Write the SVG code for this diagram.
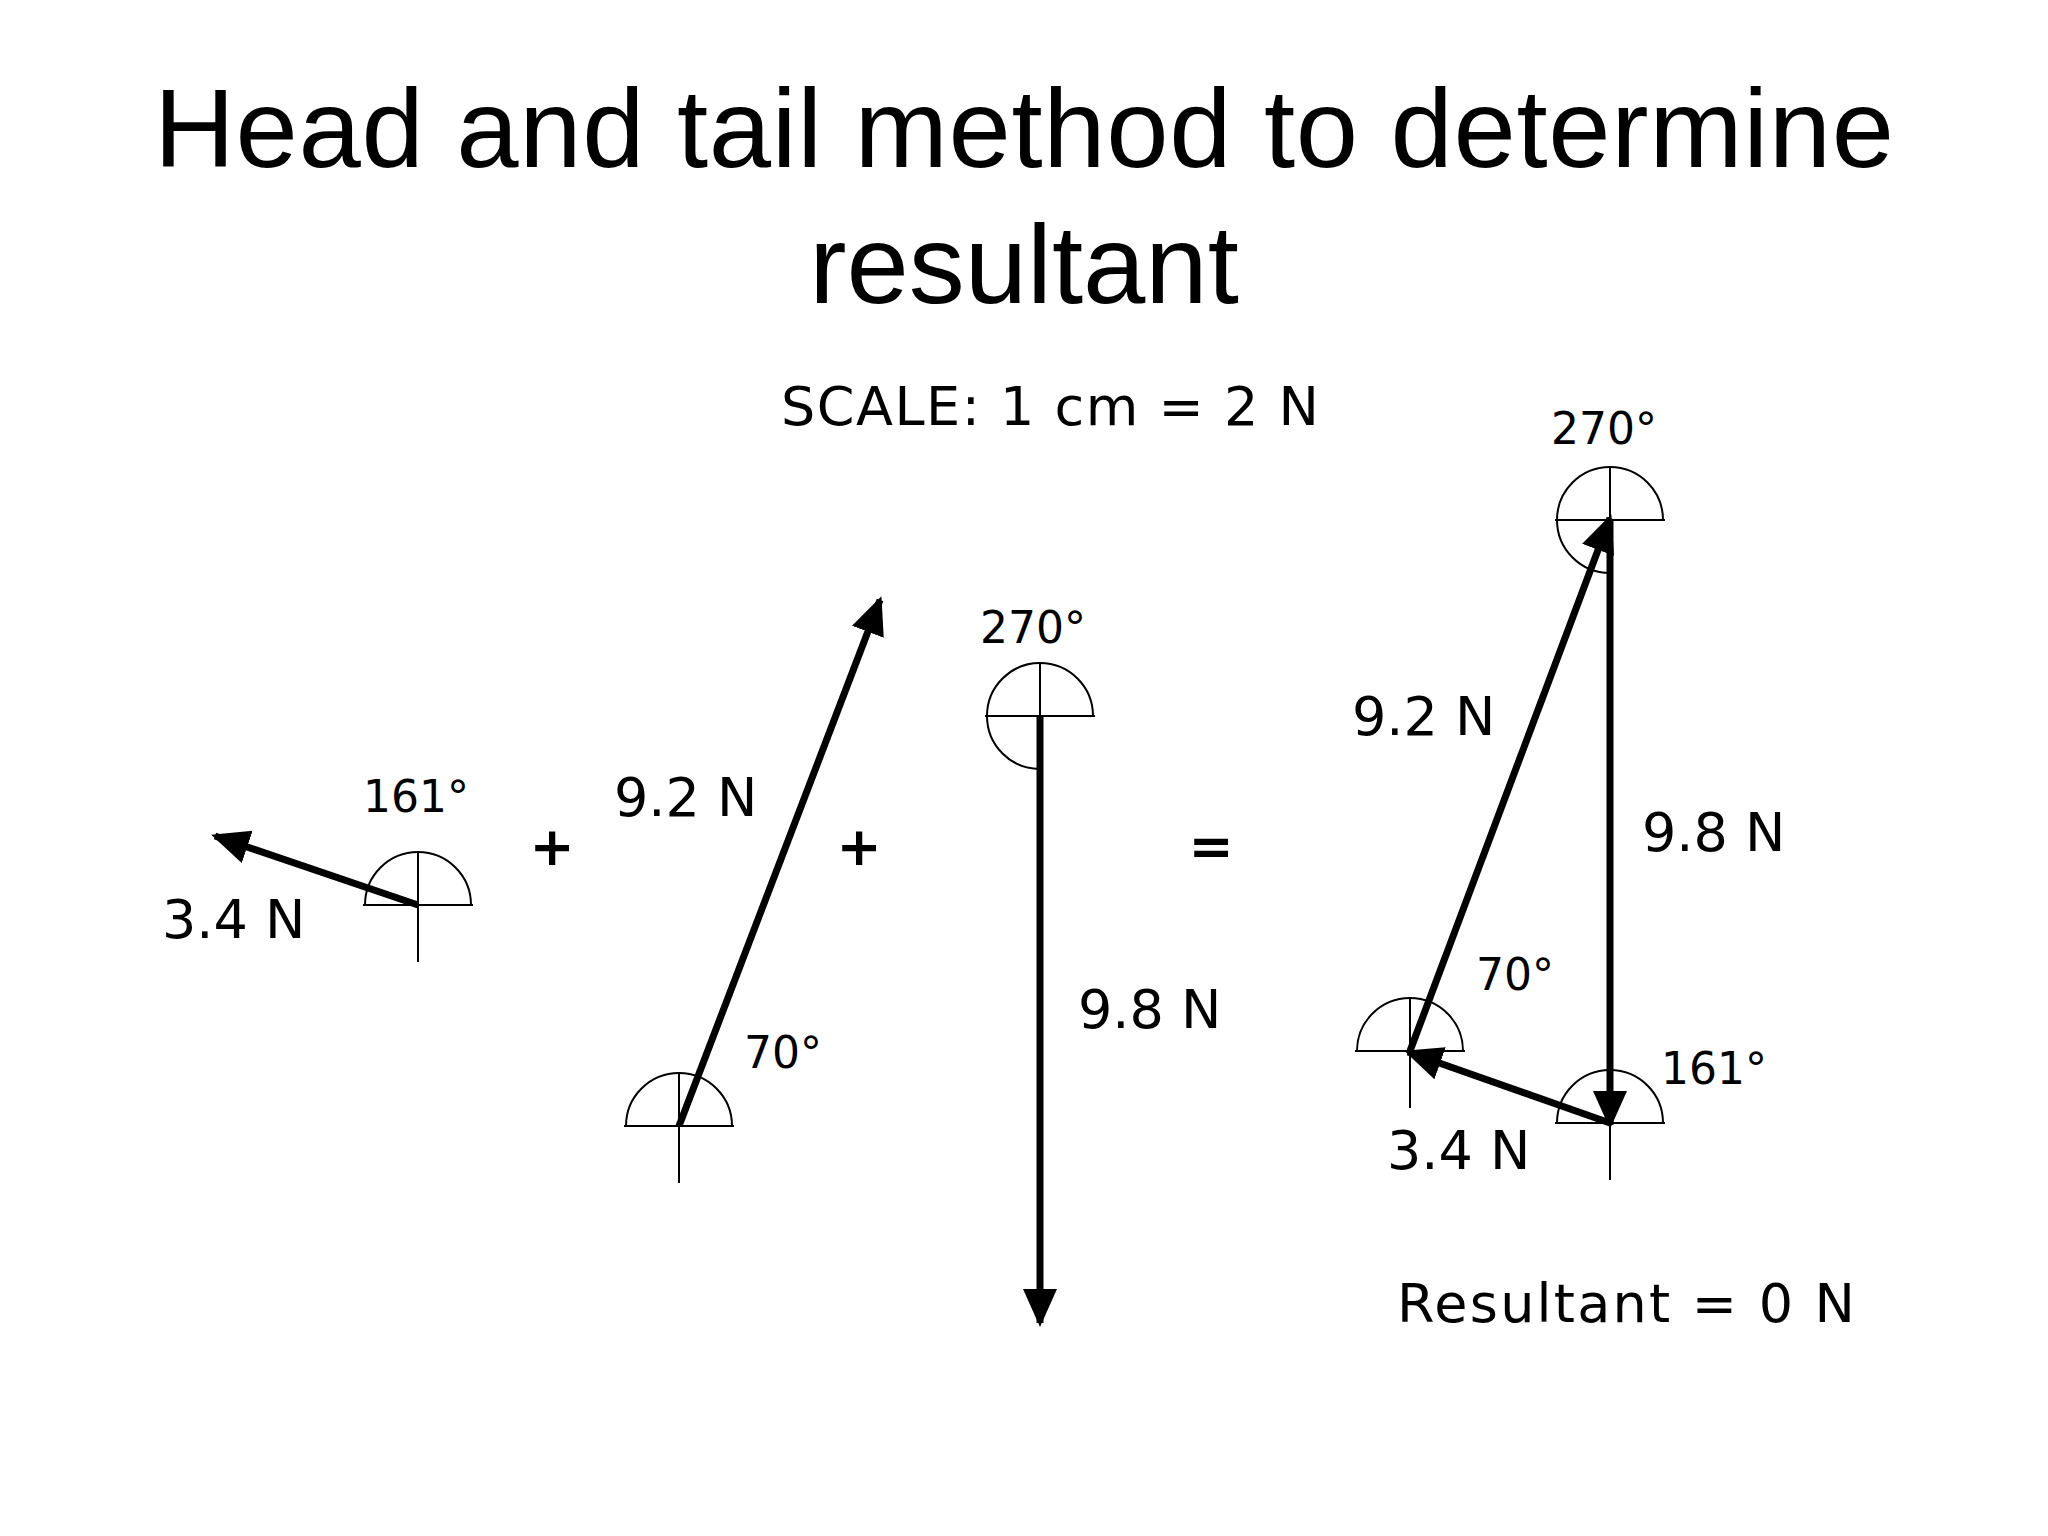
<svg xmlns="http://www.w3.org/2000/svg" width="2048" height="1536" viewBox="0 0 2048 1536">
<style>
.t{font-family:"Liberation Sans",Arial,sans-serif;fill:#000}
.lb{font-family:"DejaVu Sans","Liberation Sans",sans-serif;font-size:54px;fill:#000}
.sm{font-family:"DejaVu Sans","Liberation Sans",sans-serif;font-size:44px;fill:#000}
.v{stroke:#000;stroke-width:7;fill:none;marker-end:url(#ah)}
.thin{stroke:#000;stroke-width:2;fill:none}
</style>
<defs>
<marker id="ah" markerUnits="userSpaceOnUse" markerWidth="44" markerHeight="40" refX="34" refY="17" orient="auto"><path d="M0,0 L38,17 L0,34 Z" fill="#000"/></marker>
<g id="prot"><path d="M-53,0 A53,53 0 0 1 53,0 Z" class="thin"/><line x1="-55" y1="0" x2="55" y2="0" class="thin"/><line x1="0" y1="-53" x2="0" y2="57" class="thin"/></g>
</defs>
<rect width="2048" height="1536" fill="#fff"/>
<text class="t" x="1024" y="167" font-size="112" text-anchor="middle" textLength="1740">Head and tail method to determine</text>
<text class="t" x="1024" y="303" font-size="112" text-anchor="middle">resultant</text>
<text class="lb" x="781" y="425" textLength="538">SCALE: 1 cm = 2 N</text>
<g id="v1"><use href="#prot" x="418" y="905"/><text class="sm" x="363" y="812">161°</text><text class="lb" x="162" y="938">3.4 N</text></g>
<g id="v2"><use href="#prot" x="679" y="1126"/><text class="sm" x="744" y="1068">70°</text><text class="lb" x="614" y="816">9.2 N</text></g>
<g id="v3"><use href="#prot" x="1040" y="716"/><path d="M987,716 A53,53 0 0 0 1040,769" class="thin"/><text class="sm" x="980" y="643">270°</text><text class="lb" x="1078" y="1028">9.8 N</text></g>
<g id="ops"><text class="lb" x="552" y="865" text-anchor="middle" font-weight="bold">+</text><text class="lb" x="859" y="865" text-anchor="middle" font-weight="bold">+</text><text class="lb" x="1211" y="865" text-anchor="middle" font-weight="bold">=</text></g>
<g id="tri"><use href="#prot" x="1610" y="520"/><use href="#prot" x="1610" y="1123"/><use href="#prot" x="1410" y="1051"/>
<path d="M1557,520 A53,53 0 0 0 1610,573" class="thin"/>
<text class="sm" x="1551" y="444">270°</text><text class="lb" x="1352" y="735">9.2 N</text><text class="lb" x="1642" y="851">9.8 N</text><text class="sm" x="1476" y="990">70°</text><text class="sm" x="1661" y="1084">161°</text><text class="lb" x="1387" y="1169">3.4 N</text><text class="lb" x="1397" y="1322" textLength="458">Resultant = 0 N</text></g>
<g id="connectors">
<line class="v" x1="418" y1="905" x2="215" y2="836"/>
<line class="v" x1="679" y1="1126" x2="880" y2="600"/>
<line class="v" x1="1040" y1="716" x2="1040" y2="1323"/>
<line class="v" x1="1610" y1="520" x2="1610" y2="1125"/>
<line class="v" x1="1610" y1="1123" x2="1408" y2="1052"/>
<line class="v" x1="1410" y1="1051" x2="1610" y2="518"/>
</g>
</svg>
